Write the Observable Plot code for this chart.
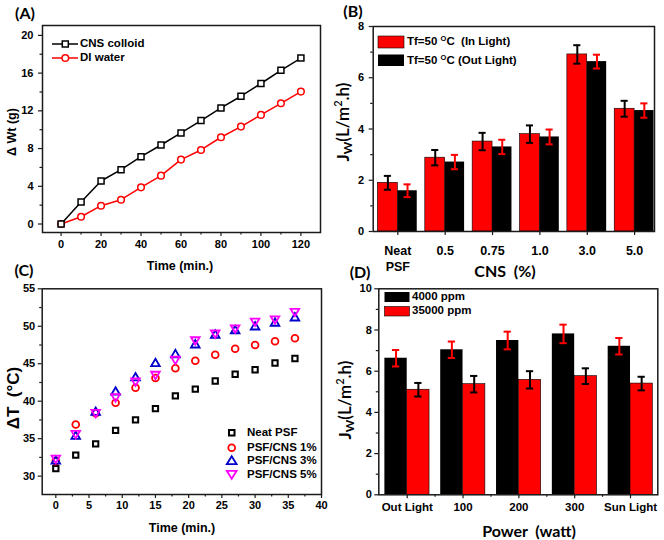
<!DOCTYPE html>
<html><head><meta charset="utf-8">
<script src="https://cdn.jsdelivr.net/npm/d3@7"></script>
<script src="https://cdn.jsdelivr.net/npm/@observablehq/plot@0.6"></script>
<style>
body{margin:0;background:#fff;}
#root{position:relative;width:664px;height:540px;overflow:hidden;background:#fff;font-family:'Liberation Sans',Arial,sans-serif;color:#000;}
.panel{position:absolute;}
.lbl{position:absolute;white-space:nowrap;line-height:1;}
.c{transform:translate(-50%,-50%);}
.l{transform:translateY(-50%);}
.rot{transform:translate(-50%,-50%) rotate(-90deg);}
.pl{font-family:Lato,'Open Sans',sans-serif;font-weight:bold;font-size:16px;}
.ax{font-family:'Liberation Sans',Arial,sans-serif;font-weight:bold;font-size:12.5px;}
.ax2{font-family:Lato,'Open Sans',sans-serif;font-weight:bold;font-size:16px;}
.lg{font-family:'Liberation Sans',Arial,sans-serif;font-weight:bold;font-size:11.5px;}
sup{font-size:0.65em;vertical-align:0.55em;line-height:0;}
sub{font-size:0.7em;vertical-align:-0.3em;line-height:0;}
</style></head>
<body><div id="root">
<div id="pA" class="panel" style="left:0;top:0"></div>
<div id="pB" class="panel" style="left:332px;top:0"></div>
<div id="pC" class="panel" style="left:0;top:270px"></div>
<div id="pD" class="panel" style="left:332px;top:270px"></div>

<svg style="position:absolute;left:0;top:0" width="664" height="540">
  <line x1="52" y1="44" x2="78" y2="44" stroke="#000" stroke-width="1.5"/>
  <rect x="62.3" y="41" width="6" height="6" fill="#fff" stroke="#000" stroke-width="1.5"/>
  <line x1="52" y1="58" x2="78" y2="58" stroke="#ff0000" stroke-width="1.5"/>
  <circle cx="65.3" cy="58" r="3.3" fill="#fff" stroke="#ff0000" stroke-width="1.5"/>

  <rect x="378" y="36" width="26" height="12" fill="#ff0000" stroke="#000" stroke-width="0.6"/>
  <rect x="378" y="54.5" width="26" height="11.5" fill="#000"/>

  <rect x="229" y="430" width="5.5" height="5.5" fill="none" stroke="#000" stroke-width="2"/>
  <circle cx="231.7" cy="447.7" r="3.4" fill="none" stroke="#ff0000" stroke-width="1.8"/>
  <path d="M231.7,456.2 L236.6,464.2 L226.8,464.2 Z" fill="none" stroke="#0000cc" stroke-width="1.8"/>
  <path d="M231.7,478.8 L236.6,470.8 L226.8,470.8 Z" fill="none" stroke="#ff00ff" stroke-width="1.8"/>

  <rect x="384.5" y="292" width="25" height="10" fill="#000"/>
  <rect x="384.5" y="306.5" width="25" height="9.5" fill="#ff0000" stroke="#000" stroke-width="0.6"/>
</svg>

<div class="lbl pl c" style="left:25px;top:13px">(A)</div>
<div class="lbl pl c" style="left:353px;top:11px">(B)</div>
<div class="lbl pl c" style="left:24px;top:270px">(C)</div>
<div class="lbl pl c" style="left:360px;top:272px">(D)</div>

<div class="lbl lg l" style="left:80px;top:44px">CNS colloid</div>
<div class="lbl lg l" style="left:80px;top:58px">DI water</div>
<div class="lbl lg l" style="left:407px;top:42px">Tf=50 <sup>O</sup>C&nbsp; (In Light)</div>
<div class="lbl lg l" style="left:407px;top:61px">Tf=50 <sup>O</sup>C (Out Light)</div>
<div class="lbl lg l" style="left:247px;top:433px">Neat PSF</div>
<div class="lbl lg l" style="left:247px;top:448px">PSF/CNS 1%</div>
<div class="lbl lg l" style="left:247px;top:461px">PSF/CNS 3%</div>
<div class="lbl lg l" style="left:247px;top:474.5px">PSF/CNS 5%</div>
<div class="lbl lg l" style="left:412px;top:297px">4000 ppm</div>
<div class="lbl lg l" style="left:412px;top:311px">35000 ppm</div>

<div class="lbl ax rot" style="left:12px;top:132px">Δ Wt (g)</div>
<div class="lbl ax c" style="left:180px;top:266px">Time (min.)</div>
<div class="lbl ax rot" style="left:13px;top:398px;font-size:17px">ΔT&nbsp; (°C)</div>
<div class="lbl ax c" style="left:182px;top:528px">Time (min.)</div>
<div class="lbl ax2 rot" style="left:342px;top:122px;font-size:17px">J<sub>W</sub><span style="font-weight:600">(L/m<sup>2</sup>.h)</span></div>
<div class="lbl ax2 c" style="left:505px;top:271px">CNS&nbsp; (%)</div>
<div class="lbl ax2 rot" style="left:344px;top:400px;font-size:17px">J<sub>W</sub><span style="font-weight:600">(L/m<sup>2</sup>.h)</span></div>
<div class="lbl ax2 c" style="left:529px;top:531px">Power&nbsp; (watt)</div>
</div>

<script>
// ---- Panel A data ----
const timeA = [0,10,20,30,40,50,60,70,80,90,100,110,120];
const cnsColloid = [0,2.33,4.56,5.76,7.14,8.38,9.66,10.97,12.31,13.55,14.9,16.3,17.6];
const diWater = [0,0.77,1.94,2.58,3.89,5.13,6.83,7.85,9.2,10.33,11.57,12.8,14.04];
const xTicksA = [0,20,40,60,80,100,120];
const xMinorA = [10,30,50,70,90,110];
const yTicksA = [0,4,8,12,16,20];
const yMinorA = [2,6,10,14,18];

// ---- Panel B data ----
const catsB = ["Neat\nPSF","0.5","0.75","1.0","3.0","5.0"];
const inLight = [1.9,2.88,3.51,3.8,6.91,4.79];
const inLightErr = [0.27,0.3,0.34,0.34,0.36,0.31];
const outLight = [1.59,2.71,3.3,3.69,6.63,4.72];
const outLightErr = [0.25,0.28,0.28,0.29,0.27,0.28];
const yTicksB = [0,2,4,6,8];
const yMinorB = [1,3,5,7];

// ---- Panel C data ----
const timeC = [0,3,6,9,12,15,18,21,24,27,30,33,36];
const neatPSF = [31.0,32.8,34.3,36.1,37.5,39.0,40.7,41.6,42.7,43.6,44.2,45.1,45.7];
const psfCns1 = [32.0,36.9,38.4,39.8,41.8,43.1,44.4,45.4,46.2,47.0,47.5,48.0,48.4];
const psfCns3 = [32.0,35.3,38.5,41.2,43.1,45.0,46.2,47.5,48.8,49.4,49.9,50.4,51.1];
const psfCns5 = [32.4,35.7,38.5,40.6,42.7,43.6,45.6,48.2,49.1,49.8,50.7,51.0,52.0];
const xTicksC = [0,5,10,15,20,25,30,35,40];
const xMinorC = [2.5,7.5,12.5,17.5,22.5,27.5,32.5,37.5];
const yTicksC = [30,35,40,45,50,55];
const yMinorC = [32.5,37.5,42.5,47.5,52.5];

// ---- Panel D data ----
const catsD = ["Out Light","100","200","300","Sun Light"];
const ppm4000 = [6.63,7.04,7.49,7.81,7.21];
const ppm4000Err = [0.4,0.4,0.43,0.45,0.4];
const ppm35000 = [5.10,5.37,5.58,5.76,5.40];
const ppm35000Err = [0.33,0.4,0.42,0.38,0.33];
const yTicksD = [0,2,4,6,8,10];
const yMinorD = [1,3,5,7,9];

const AX = "#1a1a1a";
const style = {fontFamily:"'Liberation Sans', Arial, sans-serif", fontSize:"11px", fontWeight:"bold", color:"#000", background:"none", overflow:"visible"};

function axes(o) {
  return [
    Plot.axisY(o.yMaj, {anchor:"left", tickSize:4, tickPadding:o.yPad ?? 4, stroke:AX, strokeWidth:1.2, label:null, fontSize:o.yFont}),
    Plot.axisY(o.yMin, {anchor:"left", tickSize:2.5, fill:"none", stroke:AX, strokeWidth:1.2, label:null}),
    Plot.axisX(o.xMaj, {anchor:"bottom", tickSize:4, tickPadding:o.xPad ?? 3, stroke:AX, strokeWidth:1.2, label:null, tickFormat:o.xFmt, fontSize:o.xFont, lineHeight:o.lh}),
    o.xMin ? Plot.axisX(o.xMin, {anchor:"bottom", tickSize:2.5, fill:"none", stroke:AX, strokeWidth:1.2, label:null}) : null,
    Plot.frame({stroke:AX, strokeWidth:1.5})
  ];
}

// Panel A
document.getElementById("pA").appendChild(Plot.plot({
  width:332, height:270, marginLeft:42, marginRight:12, marginTop:25, marginBottom:38,
  style,
  x:{domain:[-9.3,129.8], axis:null}, y:{domain:[-0.9,21.05], axis:null},
  marks:[
    Plot.lineY(diWater, {x:timeA, stroke:"#ff0000", strokeWidth:1.5}),
    Plot.dot(diWater, {x:timeA, y:diWater, symbol:"circle", r:3.3, fill:"#fff", stroke:"#ff0000", strokeWidth:1.5}),
    Plot.lineY(cnsColloid, {x:timeA, stroke:"#000", strokeWidth:1.5}),
    Plot.dot(cnsColloid, {x:timeA, y:cnsColloid, symbol:"square", r:3.4, fill:"#fff", stroke:"#000", strokeWidth:1.5}),
    ...axes({xMaj:xTicksA, xMin:xMinorA, yMaj:yTicksA, yMin:yMinorA, xPad:3.5, yPad:5})
  ]
}));

// Panel B
const rowsIn = catsB.map((c,i)=>({i:i+1, v:inLight[i], e:inLightErr[i]}));
const rowsOut = catsB.map((c,i)=>({i:i+1, v:outLight[i], e:outLightErr[i]}));
function errBars(rows, cx, hw, color) {
  return [
    Plot.ruleX(rows, {x:d=>d.i+cx, y1:d=>d.v-d.e, y2:d=>d.v+d.e, stroke:color, strokeWidth:2}),
    Plot.ruleY(rows, {y:d=>d.v+d.e, x1:d=>d.i+cx-hw, x2:d=>d.i+cx+hw, stroke:color, strokeWidth:2}),
    Plot.ruleY(rows, {y:d=>d.v-d.e, x1:d=>d.i+cx-hw, x2:d=>d.i+cx+hw, stroke:color, strokeWidth:2})
  ];
}
document.getElementById("pB").appendChild(Plot.plot({
  width:332, height:270, marginLeft:40.7, marginRight:10, marginTop:26, marginBottom:39,
  style,
  x:{domain:[0.48,6.42], axis:null}, y:{domain:[0,8], axis:null},
  marks:[
    Plot.rect(rowsIn, {x1:d=>d.i-0.42, x2:d=>d.i, y1:0, y2:d=>d.v, fill:"#ff0000", stroke:"#000", strokeWidth:0.6}),
    Plot.rect(rowsOut, {x1:d=>d.i, x2:d=>d.i+0.41, y1:0, y2:d=>d.v, fill:"#000"}),
    ...errBars(rowsIn, -0.21, 0.075, "#000"),
    ...errBars(rowsOut, 0.205, 0.075, "#ff0000"),
    ...axes({xMaj:[1,2,3,4,5,6], yMaj:yTicksB, yMin:yMinorB, xFmt:i=>catsB[i-1], xPad:8, yPad:5, xFont:12.5, lh:1.3})
  ]
}));

// Panel C
document.getElementById("pC").appendChild(Plot.plot({
  width:332, height:270, marginLeft:41.7, marginRight:11, marginTop:18.3, marginBottom:46,
  style,
  x:{domain:[-2.05,40], axis:null}, y:{domain:[27.55,55], axis:null},
  marks:[
    Plot.dot(neatPSF, {x:timeC, y:neatPSF, symbol:"square", r:3.0, fill:"none", stroke:"#000", strokeWidth:2}),
    Plot.dot(psfCns1, {x:timeC, y:psfCns1, symbol:"circle", r:3.4, fill:"none", stroke:"#ff0000", strokeWidth:1.8}),
    Plot.dot(psfCns3, {x:timeC, y:psfCns3, symbol:"triangle", r:3.2, fill:"none", stroke:"#0000cc", strokeWidth:1.8}),
    Plot.dot(psfCns5, {x:timeC, y:psfCns5, symbol:"triangle", rotate:180, r:3.2, fill:"none", stroke:"#ff00ff", strokeWidth:1.8}),
    ...axes({xMaj:xTicksC, xMin:xMinorC, yMaj:yTicksC, yMin:yMinorC, xPad:2.5, yPad:3})
  ]
}));

// Panel D
const rows4k = catsD.map((c,i)=>({i:i+1, v:ppm4000[i], e:ppm4000Err[i]}));
const rows35k = catsD.map((c,i)=>({i:i+1, v:ppm35000[i], e:ppm35000Err[i]}));
document.getElementById("pD").appendChild(Plot.plot({
  width:332, height:270, marginLeft:46.3, marginRight:6.7, marginTop:18.3, marginBottom:45.7,
  style,
  x:{domain:[0.491,5.489], axis:null}, y:{domain:[0,10], axis:null},
  marks:[
    Plot.rect(rows4k, {x1:d=>d.i-0.4, x2:d=>d.i, y1:0, y2:d=>d.v, fill:"#000"}),
    Plot.rect(rows35k, {x1:d=>d.i, x2:d=>d.i+0.4, y1:0, y2:d=>d.v, fill:"#ff0000", stroke:"#000", strokeWidth:0.6}),
    ...errBars(rows4k, -0.2, 0.065, "#ff0000"),
    ...errBars(rows35k, 0.2, 0.065, "#000"),
    ...axes({xMaj:[1,2,3,4,5], xMin:[1.5,2.5,3.5,4.5], yMaj:yTicksD, yMin:yMinorD, xFmt:i=>catsD[i-1], xPad:4, yPad:3, xFont:11.5})
  ]
}));
</script>
</body></html>
